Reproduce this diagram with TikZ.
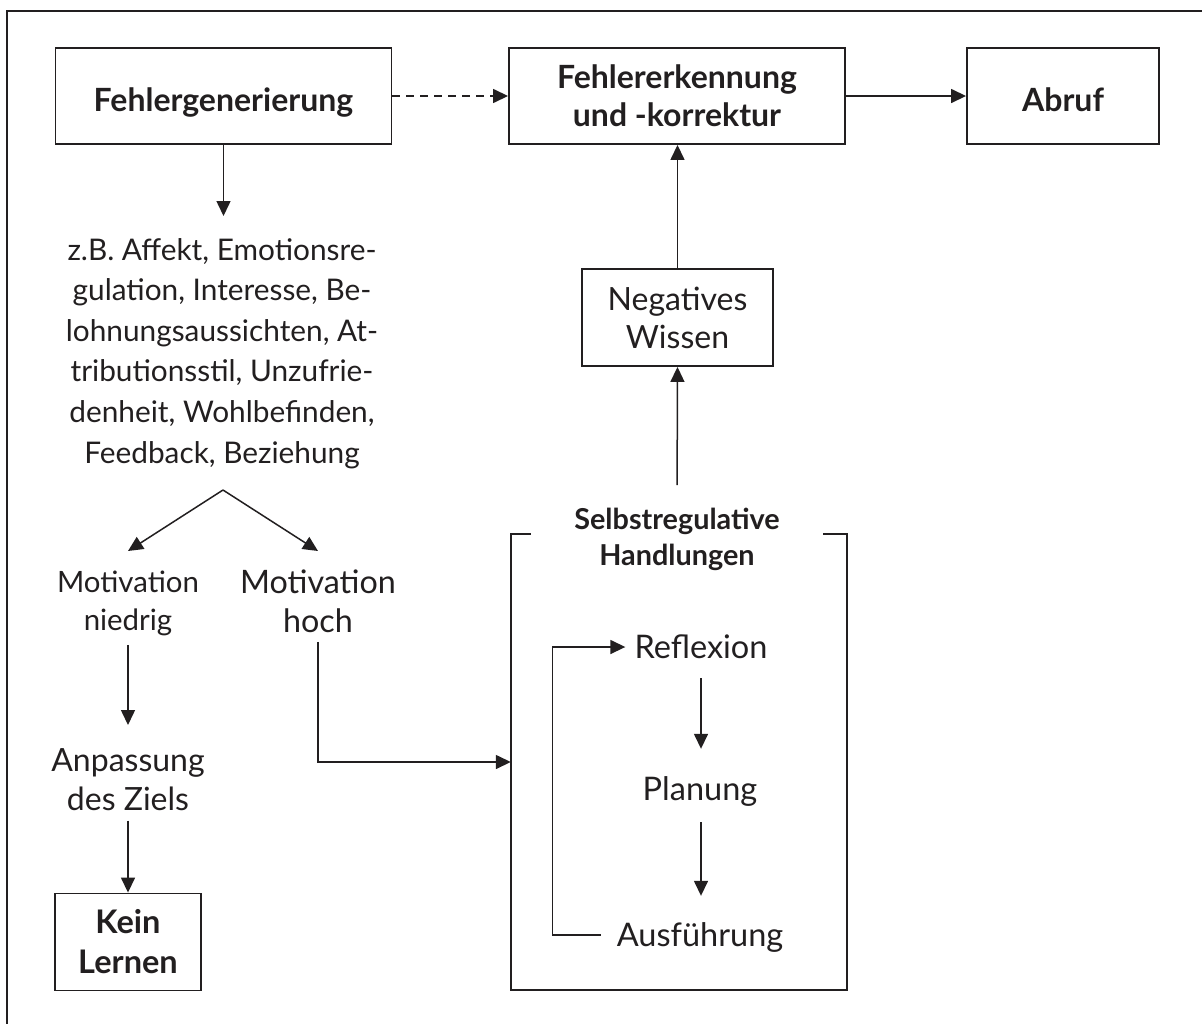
\documentclass[tikz,border=0pt]{standalone}
\usepackage{fontspec}
\setmainfont{Lato}
\usetikzlibrary{arrows.meta}
\definecolor{ink}{RGB}{34,31,32}
\newcommand{\topstrut}{\rule{0pt}{26pt}}
\newcommand{\boxstrut}{\rule{0pt}{30pt}}

\begin{document}
\begin{tikzpicture}[x=1pt, y=-1pt,
  frame/.style={draw=ink, line width=2.2pt},
  box/.style={draw=ink, line width=1.9pt, inner sep=0pt, align=center, text=ink,
    font=\bfseries\fontsize{32}{38}\selectfont, execute at begin node=\boxstrut},
  txt/.style={inner sep=0pt, align=center, anchor=north, text=ink,
    execute at begin node=\topstrut},
  word/.style={inner sep=0pt, text=ink, text height=22pt, text depth=0pt,
    font=\fontsize{32.5}{38}\selectfont},
  link/.style={draw=ink, line width=1.5pt, -{Triangle[length=15pt,width=14pt]}},
  bracket/.style={draw=ink, line width=1.9pt}]

\useasboundingbox (0,0) rectangle (1202,1023);
\begin{scope}
  \clip (0,0) rectangle (1202,1023);
  \draw[frame] (7,1040) -- (7,11) -- (1220,11);
\end{scope}

% top row
\node[box, minimum width=336pt, minimum height=96pt, text depth=0pt] (fg) at (223.5,96) {Fehlergenerierung};
\node[box, minimum width=336pt, minimum height=96pt] (fe) at (677,96) {Fehlererkennung\\und -korrektur};
\node[box, minimum width=192pt, minimum height=96pt, text depth=0pt] (ab) at (1063,96) {Abruf};

% left column
\node[txt, font=\fontsize{29.8}{40.6}\selectfont] (zb) at (222,238)
  {z.B. Affekt, Emotionsre-\\gulation, Interesse, Be-\\lohnungsaussichten, At-\\tributionsstil, Unzufrie-\\denheit, Wohlbefinden,\\Feedback, Beziehung};
\coordinate (fork) at (223,490);
\node[txt, font=\fontsize{29.4}{38}\selectfont] (lo) at (128,570.5) {Motivation\\niedrig};
\node[txt, font=\fontsize{32.3}{38.5}\selectfont] (hi) at (318,570) {Motivation\\hoch};
\node[txt, font=\fontsize{32}{39}\selectfont] (ad) at (128,748) {Anpassung\\des Ziels};
\node[box, minimum width=146pt, minimum height=97pt, font=\bfseries\fontsize{32.5}{40}\selectfont] (kl) at (128,942) {Kein\\Lernen};

% right column
\node[box, font=\fontsize{32}{38}\selectfont, minimum width=191pt, minimum height=97pt] (nw) at (677.5,317.5) {Negatives\\Wissen};
\node[minimum width=336pt, minimum height=456pt, inner sep=0pt] (sr) at (679,762) {};
\draw[bracket] ([xshift=20pt]sr.north west) -- (sr.north west) -- (sr.south west)
  -- (sr.south east) -- (sr.north east) -- ([xshift=-24pt]sr.north east);
\node[txt, font=\bfseries\fontsize{28.8}{36}\selectfont] (st) at (677,508) {Selbstregulative\\Handlungen};
\node[word, anchor=base] (rf) at (701,658) {Reflexion};
\node[word, anchor=base] (pl) at (700,800) {Planung};
\node[word, anchor=base] (au) at (700,946) {Ausführung};

% connectors
\draw[link, dash pattern=on 8pt off 6pt] (fg.east) -- (fe.west);
\draw[link] (fe.east) -- (ab.west);
\draw[link, shorten >=22pt] (fg.south) -- (fg.south |- zb.north);
\draw[link] (fork) -- ([yshift=19.5pt]lo.north);
\draw[link] (fork) -- ([yshift=19pt]hi.north);
\draw[link, shorten <=9pt, shorten >=23pt] (lo.south) -- (ad.north);
\draw[link, shorten <=10pt] (ad.south) -- (kl.north);
\draw[link, shorten <=9pt] (hi.south) |- (sr.west);
\draw[link, shorten <=23pt] (st.north) -- (nw.south);
\draw[link] (nw.north) -- (nw.north |- fe.south);
\draw[link, shorten <=20pt, shorten >=29pt] (rf.south) -- (pl.north -| rf.south);
\draw[link, shorten <=22pt, shorten >=28pt] (pl.south -| rf.south) -- (au.north -| rf.south);
\draw[link] ([xshift=-16pt]au.west) -- ++(-48,0) |- ([xshift=-9pt]rf.west);
\end{tikzpicture}
\end{document}
